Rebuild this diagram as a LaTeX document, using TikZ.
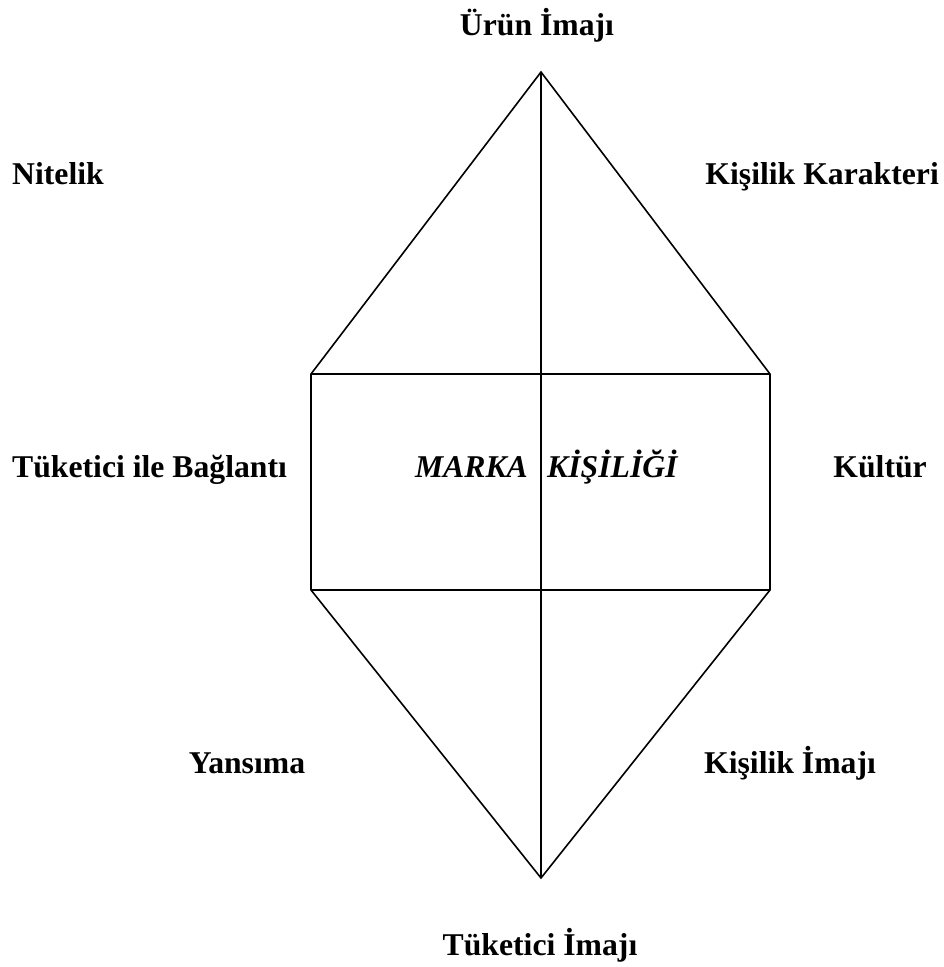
\documentclass[tikz,border=0pt]{standalone}
\usepackage{fontspec}
\setmainfont{Liberation Serif}
\begin{document}
\begin{tikzpicture}[x=1pt,y=-1pt,
  lbl/.style={inner sep=0pt, font=\fontsize{31.7}{38}\selectfont\bfseries},
  ctr/.style={inner sep=0pt, font=\fontsize{31.7}{38}\selectfont\bfseries\itshape},
  edge/.style={line width=1.6pt, line join=miter}]
\useasboundingbox (0,0) rectangle (943,967);
% frame points
\coordinate (top) at (541,72);
\coordinate (tl) at (311,374);
\coordinate (tr) at (770,374);
\coordinate (bl) at (311,590);
\coordinate (br) at (770,590);
\coordinate (bot) at (541,878);
\coordinate (mt) at (541,374);
\coordinate (mb) at (541,590);
% shapes
\draw[edge] (tl) -- (top) -- (tr) -- (br) -- (bot) -- (bl) -- cycle;
\draw[edge] (tl) -- (tr);
\draw[edge] (bl) -- (br);
\draw[edge] (top) -- (bot);
% labels
\node[lbl, anchor=base] (urun) at (537,35) {Ürün İmajı};
\node[lbl, anchor=base west] (nitelik) at (12,184) {Nitelik};
\node[lbl, anchor=base east] (kkar) at (939,184) {Kişilik Karakteri};
\node[lbl, anchor=base west] (bag) at (12,477) {Tüketici ile Bağlantı};
\node[lbl, anchor=base east] (kultur) at (927,477) {Kültür};
\node[ctr, anchor=base east] (marka) at (528,477) {MARKA};
\node[ctr, anchor=base west] (kisilik) at (547,477) {KİŞİLİĞİ};
\node[lbl, anchor=base] (yansima) at (247,773) {Yansıma};
\node[lbl, anchor=base] (kimaj) at (790,773) {Kişilik İmajı};
\node[lbl, anchor=base] (timaj) at (540,955) {Tüketici İmajı};
\end{tikzpicture}
\end{document}
